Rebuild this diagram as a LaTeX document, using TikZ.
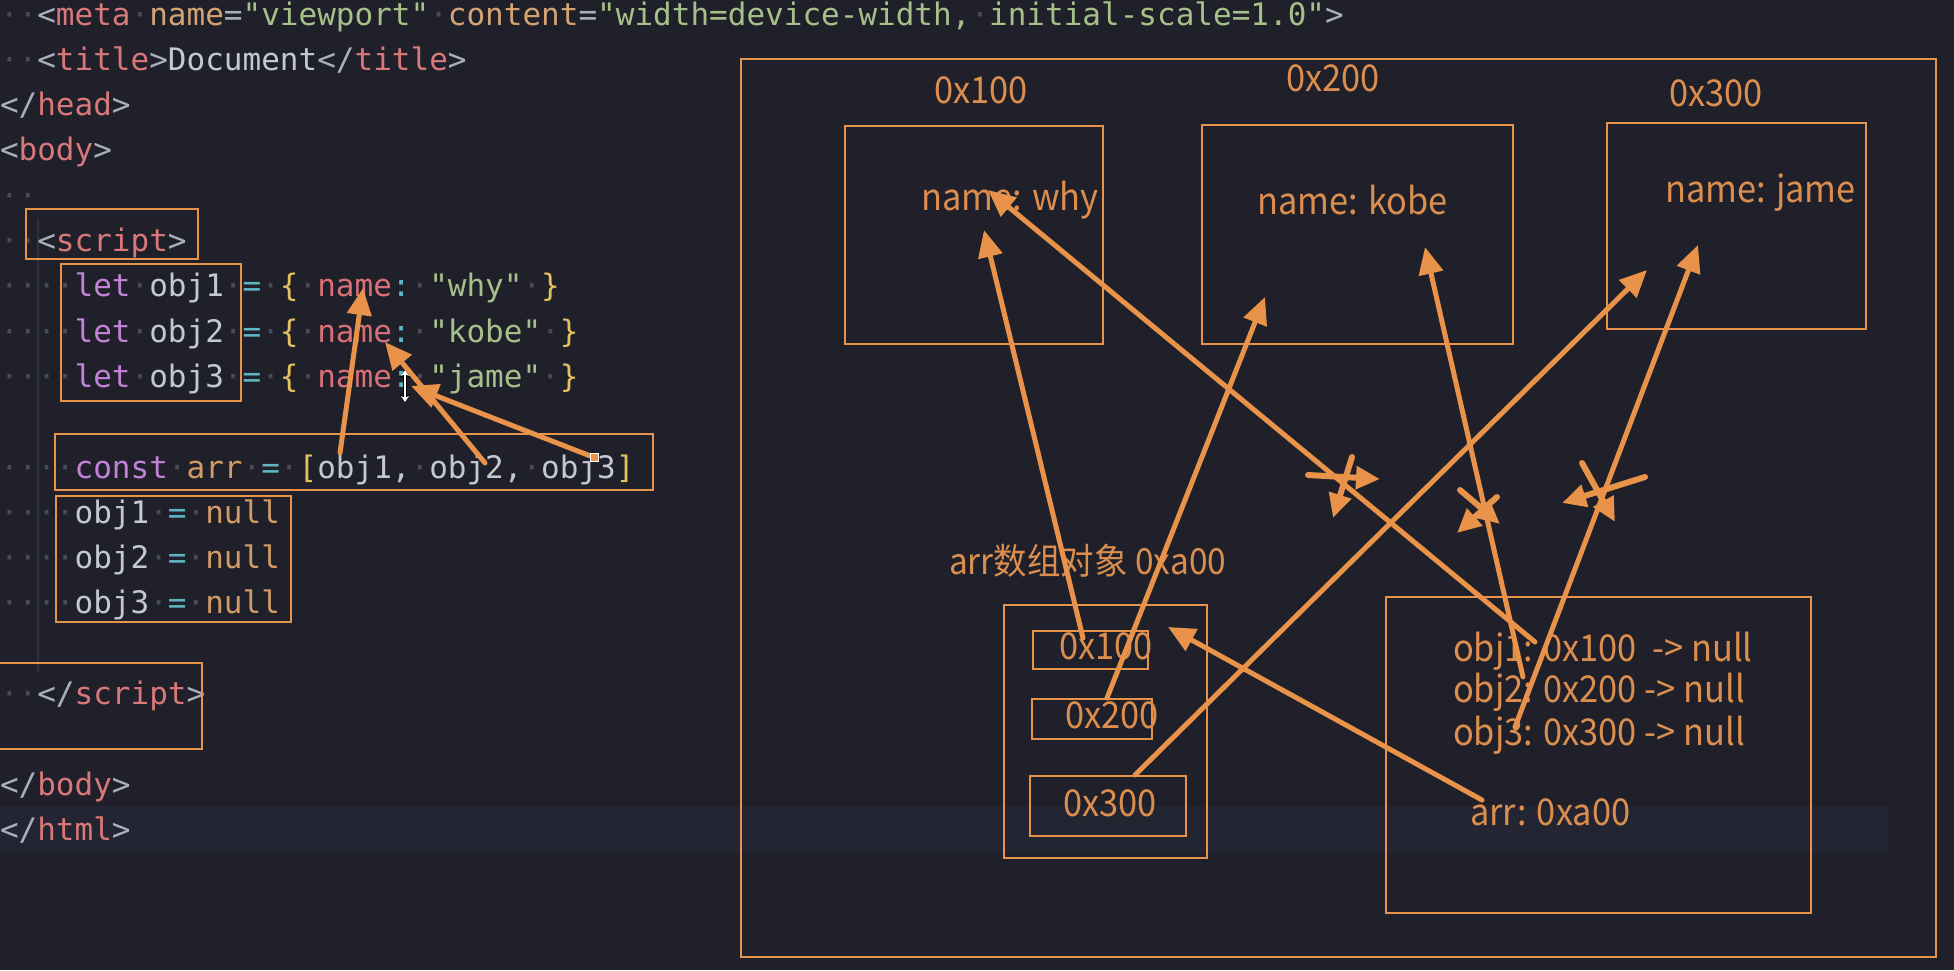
\documentclass[tikz,border=0pt]{standalone}
\usepackage{fontspec}
\usetikzlibrary{arrows.meta}
\newfontfamily\code{DejaVu Sans Mono}
\newfontfamily\cjk{Noto Sans CJK SC}[FakeStretch=0.93]
\definecolor{bg}{HTML}{1F202A}
\definecolor{hl}{HTML}{232532}
\definecolor{guide}{HTML}{2E3140}
\definecolor{orng}{HTML}{E8924A}
\definecolor{otext}{HTML}{DB8E4E}
\definecolor{punc}{HTML}{A9B0BD}
\definecolor{tagc}{HTML}{D8787A}
\definecolor{attrc}{HTML}{D4A373}
\definecolor{strc}{HTML}{A6C08A}
\definecolor{txtc}{HTML}{C3C8D2}
\definecolor{kwc}{HTML}{C282D8}
\definecolor{opc}{HTML}{5EB5C0}
\definecolor{bracec}{HTML}{E5C15E}
\definecolor{keyc}{HTML}{DA7077}
\definecolor{nullc}{HTML}{D19A66}
\definecolor{dotc}{HTML}{464957}
\newcommand\D{\textcolor{dotc}{·}}
\newcommand\Cp[1]{\textcolor{punc}{#1}}
\newcommand\Ct[1]{\textcolor{tagc}{#1}}
\newcommand\Ca[1]{\textcolor{attrc}{#1}}
\newcommand\Cs[1]{\textcolor{strc}{#1}}
\newcommand\Cx[1]{\textcolor{txtc}{#1}}
\newcommand\Ck[1]{\textcolor{kwc}{#1}}
\newcommand\Co[1]{\textcolor{opc}{#1}}
\newcommand\Cb[1]{\textcolor{bracec}{#1}}
\newcommand\Cy[1]{\textcolor{keyc}{#1}}
\newcommand\Cn[1]{\textcolor{nullc}{#1}}
\begin{document}
\begin{tikzpicture}[x=1pt,y=-1pt,
  codeline/.style={anchor=base west, inner sep=0pt, outer sep=0pt, font=\code\fontsize{31}{31}\selectfont},
  lbl/.style={anchor=base west, inner sep=0pt, outer sep=0pt, text=otext, font=\cjk\fontsize{37}{37}\selectfont},
  box/.style={draw=orng, line width=2.5pt, anchor=north west, inner sep=0pt, outer sep=0pt},
  ptr/.style={draw=orng, line width=5pt, line cap=round, -{Triangle[length=27pt,width=24pt]}},
  xmark/.style={draw=orng, line width=6pt, line cap=round, -{Triangle[length=24pt,width=22pt]}}]
\fill[bg] (0,0) rectangle (1954,970);
\useasboundingbox (0,0) rectangle (1954,970);
% current line highlight and indent guide
\fill[hl] (0,806) rectangle (1888,852);
\draw[guide, line width=1.5pt] (38,218) -- (38,672);
% code lines
\node[codeline] (l0) at (0,25) {\D\D\Cp{<}\Ct{meta}\D\Ca{name}\Cp{=}\Cs{"viewport"}\D\Ca{content}\Cp{=}\Cs{"width=device-width,\D initial-scale=1.0"}\Cp{>}};
\node[codeline] (l1) at (0,70.3) {\D\D\Cp{<}\Ct{title}\Cp{>}\Cx{Document}\Cp{</}\Ct{title}\Cp{>}};
\node[codeline] (l2) at (0,115.6) {\Cp{</}\Ct{head}\Cp{>}};
\node[codeline] (l3) at (0,160.9) {\Cp{<}\Ct{body}\Cp{>}};
\node[codeline] (l4) at (0,206.2) {\D\D};
\node[codeline] (l5) at (0,251.5) {\D\D\Cp{<}\Ct{script}\Cp{>}};
\node[codeline] (l6) at (0,296.8) {\D\D\D\D\Ck{let}\D\Cx{obj1}\D\Co{=}\D\Cb{\{}\D\Cy{name}\Co{:}\D\Cs{"why"}\D\Cb{\}}};
\node[codeline] (l7) at (0,342.1) {\D\D\D\D\Ck{let}\D\Cx{obj2}\D\Co{=}\D\Cb{\{}\D\Cy{name}\Co{:}\D\Cs{"kobe"}\D\Cb{\}}};
\node[codeline] (l8) at (0,387.4) {\D\D\D\D\Ck{let}\D\Cx{obj3}\D\Co{=}\D\Cb{\{}\D\Cy{name}\Co{:}\D\Cs{"jame"}\D\Cb{\}}};
\node[codeline] (l10) at (0,478) {\D\D\D\D\Ck{const}\D\Cn{arr}\D\Co{=}\D\Cb{[}\Cx{obj1,}\D\Cx{obj2,}\D\Cx{obj3}\Cb{]}};
\node[codeline] (l11) at (0,523.3) {\D\D\D\D\Cx{obj1}\D\Co{=}\D\Cn{null}};
\node[codeline] (l12) at (0,568.6) {\D\D\D\D\Cx{obj2}\D\Co{=}\D\Cn{null}};
\node[codeline] (l13) at (0,613.9) {\D\D\D\D\Cx{obj3}\D\Co{=}\D\Cn{null}};
\node[codeline] (l15) at (0,704.5) {\D\D\Cp{</}\Ct{script}\Cp{>}};
\node[codeline] (l17) at (0,795.1) {\Cp{</}\Ct{body}\Cp{>}};
\node[codeline] (l18) at (0,840.4) {\Cp{</}\Ct{html}\Cp{>}};
% left annotation boxes
\node[box, minimum width=172pt, minimum height=50pt] (bScript) at (26,209) {};
\node[box, minimum width=180pt, minimum height=137pt] (bLet) at (61,264) {};
\node[box, minimum width=598pt, minimum height=56pt] (bConst) at (55,434) {};
\node[box, minimum width=235pt, minimum height=126pt] (bNull) at (56,496) {};
\node[box, minimum width=207pt, minimum height=86pt] (bEnd) at (-5,663) {};
% left arrows
\coordinate (a1s) at (340,453); \coordinate (a1e) at (363,288);
\coordinate (a2s) at (485,463); \coordinate (a2e) at (385,342);
\coordinate (a3s) at (593,457); \coordinate (a3e) at (411,386);
\draw[ptr] (a1s) -- (a1e);
\draw[ptr] (a2s) -- (a2e);
\draw[ptr] (a3s) -- (a3e);
\node[draw=white, fill=orng, line width=1pt, minimum size=8pt, inner sep=0pt] (handle) at (594,457) {};
% mouse cursor
\coordinate (cur1) at (405,370); \coordinate (cur2) at (405,402);
\draw[black, line width=4pt, {Stealth[length=8pt,width=11pt]}-{Stealth[length=8pt,width=11pt]}] (cur1) -- (cur2);
\draw[white, line width=2pt, {Stealth[length=6pt,width=8pt]}-{Stealth[length=6pt,width=8pt]}] (cur1) -- (cur2);
% right: heap
\node[box, minimum width=1195pt, minimum height=898pt] (bOuter) at (741,59) {};
\node[box, minimum width=258pt, minimum height=218pt] (bO1) at (845,126) {};
\node[box, minimum width=311pt, minimum height=219pt] (bO2) at (1202,125) {};
\node[box, minimum width=259pt, minimum height=206pt] (bO3) at (1607,123) {};
\node[box, minimum width=203pt, minimum height=253pt] (bArr) at (1004,605) {};
\node[box, minimum width=115pt, minimum height=38pt] (bA1) at (1033,631) {};
\node[box, minimum width=120pt, minimum height=40pt] (bA2) at (1032,699) {};
\node[box, minimum width=156pt, minimum height=60pt] (bA3) at (1030,776) {};
\node[box, minimum width=425pt, minimum height=316pt] (bStack) at (1386,597) {};
% labels
\node[lbl] (t100) at (934,103) {0x100};
\node[lbl] (t200) at (1286,91) {0x200};
\node[lbl] (t300) at (1669,106) {0x300};
\node[lbl] (tWhy) at (921,210) {name: why};
\node[lbl] (tKobe) at (1257,214) {name: kobe};
\node[lbl] (tJame) at (1665,202) {name: jame};
\node[lbl, font=\cjk\fontsize{36}{36}\selectfont] (tArr) at (949,574) {arr数组对象 0xa00};
\node[lbl] (tA1) at (1059,659) {0x100};
\node[lbl] (tA2) at (1065,728) {0x200};
\node[lbl] (tA3) at (1063,816) {0x300};
\node[lbl] (tS1) at (1453,661) {obj1: 0x100\ \ -> null};
\node[lbl] (tS2) at (1453,702) {obj2: 0x200 -> null};
\node[lbl] (tS3) at (1453,745) {obj3: 0x300 -> null};
\node[lbl] (tS4) at (1470,825) {arr: 0xa00};
% right arrows
\coordinate (r1s) at (1083,638); \coordinate (r1e) at (984,230);
\coordinate (r2s) at (1107,698); \coordinate (r2e) at (1265,297);
\coordinate (r3s) at (1135,775); \coordinate (r3e) at (1647,270);
\coordinate (r4s) at (1535,642); \coordinate (r4e) at (988,190);
\coordinate (r5s) at (1523,677); \coordinate (r5e) at (1425,247);
\coordinate (r6s) at (1515,727); \coordinate (r6e) at (1698,245);
\coordinate (r7s) at (1482,800); \coordinate (r7e) at (1168,627);
\draw[ptr] (r1s) -- (r1e);
\draw[ptr] (r2s) -- (r2e);
\draw[ptr] (r3s) -- (r3e);
\draw[ptr] (r4s) -- (r4e);
\draw[ptr] (r5s) -- (r5e);
\draw[ptr] (r6s) -- (r6e);
\draw[ptr] (r7s) -- (r7e);
% cross marks
\coordinate (c1as) at (1308,475); \coordinate (c1ae) at (1380,479);
\coordinate (c1bs) at (1352,457); \coordinate (c1be) at (1333,518);
\coordinate (c2as) at (1460,490); \coordinate (c2ae) at (1500,524);
\coordinate (c2bs) at (1497,497); \coordinate (c2be) at (1457,533);
\coordinate (c3as) at (1582,463); \coordinate (c3ae) at (1615,522);
\coordinate (c3bs) at (1645,477); \coordinate (c3be) at (1562,503);
\draw[xmark] (c1as) -- (c1ae);
\draw[xmark] (c1bs) -- (c1be);
\draw[xmark] (c2as) -- (c2ae);
\draw[xmark] (c2bs) -- (c2be);
\draw[xmark] (c3as) -- (c3ae);
\draw[xmark] (c3bs) -- (c3be);
\end{tikzpicture}
\end{document}
